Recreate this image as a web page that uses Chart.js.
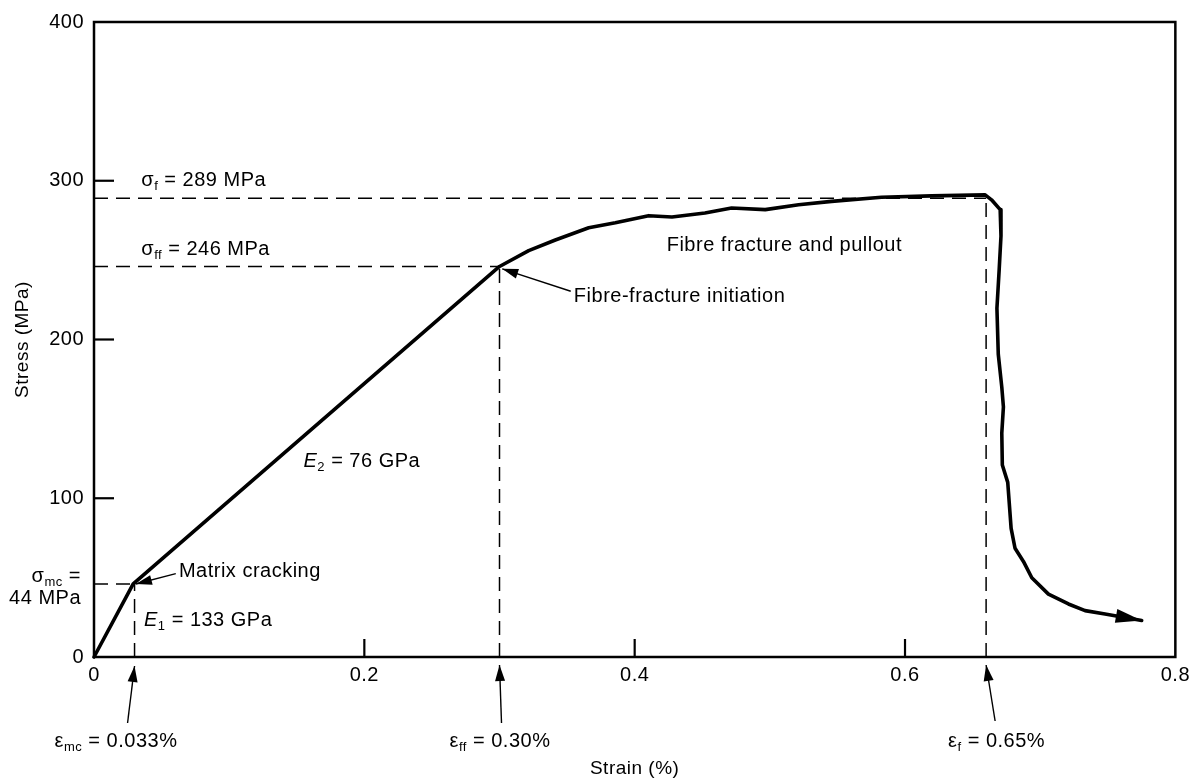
<!DOCTYPE html>
<html><head><meta charset="utf-8">
<script src="https://cdn.jsdelivr.net/npm/chart.js@4.4.1/dist/chart.umd.min.js"></script>
<style>html,body{margin:0;padding:0;background:#fff}#wrap{width:1196px;height:780px;position:relative}</style>
</head><body><div id="wrap"><canvas id="c" width="1196" height="780"></canvas></div>
<script>
// ---- data ----
const strain = [0, 0.029, 0.300, 0.3216, 0.3413, 0.366, 0.3857, 0.4103, 0.4276, 0.452, 0.4717, 0.4966, 0.5213, 0.5457, 0.5826, 0.6196, 0.6593, 0.664, 0.6704, 0.671, 0.6697, 0.668, 0.669, 0.6716, 0.6728, 0.6716, 0.672, 0.676, 0.6785, 0.6814, 0.6876, 0.6938, 0.7061, 0.7209, 0.7332, 0.748, 0.7751];
const stress = [0, 46, 246, 256, 262.7, 270.4, 273.5, 278, 277.2, 279.7, 282.8, 281.8, 284.9, 287, 289.6, 290.5, 291.1, 288, 281.8, 265.2, 244.5, 219.7, 190.7, 170, 157.6, 141, 121, 110, 81, 68.5, 60.2, 49.9, 39.6, 33.4, 29.2, 27.1, 23];
const keyNames = ['mc', 'ff', 'f'];
const keyStrain = [0.030, 0.30, 0.66];
const keyStress = [46, 246, 289];
const xTicks = [0, 0.2, 0.4, 0.6, 0.8];
const yTicks = [0, 100, 200, 300, 400];

const FONT = '"Liberation Sans", Arial, Helvetica, sans-serif';
const INK = '#000';
const SPACING = '0.5px';

const dashed = [];
keyStrain.forEach((s, i) => {
  dashed.push({ data: [{x: 0, y: keyStress[i]}, {x: s, y: keyStress[i]}] });
  dashed.push({ data: [{x: s, y: 0}, {x: s, y: keyStress[i]}] });
});

function richText(ctx, x, y, parts, align) {
  const big = '20px ' + FONT, small = '13px ' + FONT;
  let w = 0;
  parts.forEach(p => { ctx.font = (p.sub ? small : (p.it ? 'italic ' : '') + big); w += ctx.measureText(p.t).width; });
  let cx = align === 'right' ? x - w : (align === 'center' ? x - w / 2 : x);
  ctx.textBaseline = 'middle'; ctx.textAlign = 'left'; ctx.fillStyle = INK;
  parts.forEach(p => {
    ctx.font = p.sub ? small : ((p.it ? 'italic ' : '') + big);
    ctx.fillText(p.t, cx, y + (p.sub ? 6 : 0));
    cx += ctx.measureText(p.t).width;
  });
}
function arrow(ctx, x1, y1, x2, y2, len, half) {
  ctx.beginPath(); ctx.moveTo(x1, y1); ctx.lineTo(x2, y2); ctx.stroke();
  const a = Math.atan2(y2 - y1, x2 - x1);
  ctx.beginPath();
  ctx.moveTo(x2, y2);
  ctx.lineTo(x2 - len * Math.cos(a) + half * Math.sin(a), y2 - len * Math.sin(a) - half * Math.cos(a));
  ctx.lineTo(x2 - len * Math.cos(a) - half * Math.sin(a), y2 - len * Math.sin(a) + half * Math.cos(a));
  ctx.closePath(); ctx.fill();
}

const annot = {
  id: 'annot',
  beforeLayout(chart) { chart.ctx.letterSpacing = SPACING; },
  beforeDraw(chart) { chart.ctx.letterSpacing = SPACING; },
  afterDatasetsDraw(chart) {
    const {ctx, chartArea: a, scales: {x, y}} = chart;
    const X = v => x.getPixelForValue(v), Y = v => y.getPixelForValue(v);
    ctx.save();
    ctx.letterSpacing = SPACING;
    ctx.strokeStyle = INK; ctx.fillStyle = INK;
    // frame
    ctx.lineWidth = 2.5; ctx.lineJoin = 'miter';
    ctx.strokeRect(a.left, a.top, a.right - a.left, a.bottom - a.top);
    // inward tick marks
    ctx.lineWidth = 2.2;
    yTicks.slice(1, -1).forEach(v => { ctx.beginPath(); ctx.moveTo(a.left, Y(v)); ctx.lineTo(a.left + 20, Y(v)); ctx.stroke(); });
    xTicks.slice(1, -1).forEach(v => { ctx.beginPath(); ctx.moveTo(X(v), a.bottom); ctx.lineTo(X(v), a.bottom - 18); ctx.stroke(); });
    // arrowhead at curve end
    const pts = chart.getDatasetMeta(0).data;
    const p1 = pts[pts.length - 2], p2 = pts[pts.length - 1];
    ctx.lineWidth = 1;
    const ang = Math.atan2(p2.y - p1.y, p2.x - p1.x);
    arrow(ctx, p2.x - Math.cos(ang), p2.y - Math.sin(ang), p2.x, p2.y, 26, 7);
    // texts
    richText(ctx, X(0.035), Y(300), [{t: 'σ'}, {t: 'f', sub: true}, {t: ' = 289 MPa'}]);
    richText(ctx, X(0.035), Y(257), [{t: 'σ'}, {t: 'ff', sub: true}, {t: ' = 246 MPa'}]);
    richText(ctx, X(0.4237), Y(259), [{t: 'Fibre fracture and pullout'}]);
    richText(ctx, X(0.355), Y(227), [{t: 'Fibre-fracture initiation'}]);
    richText(ctx, X(0.0628), Y(54), [{t: 'Matrix cracking'}]);
    richText(ctx, X(0.037), Y(23), [{t: 'E', it: true}, {t: '1', sub: true}, {t: ' = 133 GPa'}]);
    richText(ctx, X(0.155), Y(123), [{t: 'E', it: true}, {t: '2', sub: true}, {t: ' = 76 GPa'}]);
    richText(ctx, a.left - 13, Y(51), [{t: 'σ'}, {t: 'mc', sub: true}, {t: ' ='}], 'right');
    richText(ctx, a.left - 13, Y(36.6), [{t: '44 MPa'}], 'right');
    // annotation arrows
    ctx.lineWidth = 1.4;
    arrow(ctx, X(0.3527), Y(230.4), X(0.302), Y(244.5), 16, 5);
    arrow(ctx, X(0.0605), Y(52.5), X(0.031), Y(46), 16, 5);
    const b = a.bottom;
    arrow(ctx, X(keyStrain[0]) - 7, b + 66, X(keyStrain[0]), b + 9, 16, 5);
    arrow(ctx, X(keyStrain[1]) + 2, b + 66, X(keyStrain[1]), b + 8, 16, 5);
    arrow(ctx, X(keyStrain[2]) + 9, b + 64, X(keyStrain[2]), b + 8, 16, 5);
    richText(ctx, X(keyStrain[0]) - 80, b + 84, [{t: 'ε'}, {t: 'mc', sub: true}, {t: ' = 0.033%'}]);
    richText(ctx, X(keyStrain[1]) - 50, b + 84, [{t: 'ε'}, {t: 'ff', sub: true}, {t: ' = 0.30%'}]);
    richText(ctx, X(keyStrain[2]) - 38, b + 84, [{t: 'ε'}, {t: 'f', sub: true}, {t: ' = 0.65%'}]);
    ctx.restore();
  }
};

const datasets = [{
  label: 'Stress–strain',
  data: strain.map((s, i) => ({x: s, y: stress[i]})),
  showLine: true, borderColor: INK, borderWidth: 3.6, pointRadius: 0,
  tension: 0, borderJoinStyle: 'round', borderCapStyle: 'round', clip: false
}].concat(dashed.map(d => ({
  data: d.data, showLine: true, borderColor: INK, borderWidth: 1.5,
  borderDash: [14, 8], pointRadius: 0, tension: 0
})));

new Chart(document.getElementById('c'), {
  type: 'scatter',
  data: { datasets },
  options: {
    responsive: false, animation: false, devicePixelRatio: 1,
    layout: { padding: { left: 0, top: 13, right: 19, bottom: 0 } },
    plugins: { legend: { display: false }, tooltip: { enabled: false } },
    scales: {
      x: {
        type: 'linear', min: 0, max: 0.8,
        afterBuildTicks: s => { s.ticks = xTicks.map(v => ({value: v})); },
        afterFit: s => { s.height = 123; },
        grid: { display: false, drawTicks: false }, border: { display: false },
        ticks: { padding: 6, color: INK, font: { family: FONT, size: 20 },
          callback: v => String(Math.round(v * 10) / 10) },
        title: { display: true, text: 'Strain (%)', color: INK, font: { family: FONT, size: 19 }, padding: { top: 3, bottom: 0 } }
      },
      y: {
        type: 'linear', min: 0, max: 400,
        afterBuildTicks: s => { s.ticks = yTicks.map(v => ({value: v})); },
        afterFit: s => { s.width = 94; },
        grid: { display: false, drawTicks: false }, border: { display: false },
        ticks: { padding: 10, color: INK, font: { family: FONT, size: 20 }, callback: v => String(v) },
        title: { display: true, text: 'Stress (MPa)', color: INK, font: { family: FONT, size: 19 }, padding: { top: 11, bottom: 0 } }
      }
    }
  },
  plugins: [annot]
});
</script>
</body></html>
